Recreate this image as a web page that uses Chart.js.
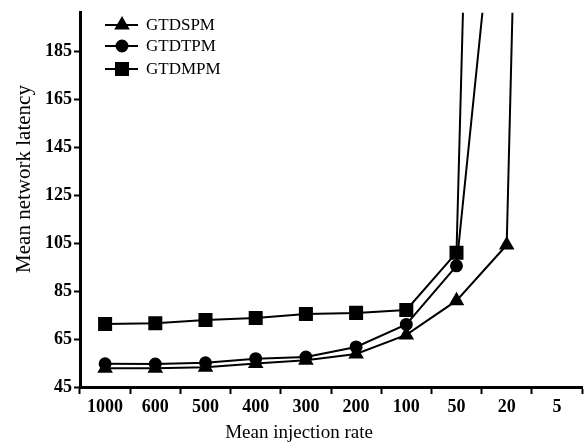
<!DOCTYPE html>
<html>
<head>
<meta charset="utf-8">
<script src="https://cdn.jsdelivr.net/npm/chart.js@4"></script>
<style>
  html, body { margin: 0; padding: 0; background: #fff; }
  #wrap { width: 584px; height: 446px; }
</style>
</head>
<body>
<div id="wrap"><canvas id="chart" width="584" height="446"></canvas></div>
<script>
// injection rate categories (x axis)
const rates = ['1000', '600', '500', '400', '300', '200', '100', '50', '20', '5'];
const yTicks = [45, 65, 85, 105, 125, 145, 165, 185];
const xTitle = 'Mean injection rate';
const yTitle = 'Mean network latency';

// mean network latency per series (values past the top are clipped)
const gtdspm = [52.8, 52.8, 53.2, 54.8, 56.2, 58.8, 66.7, 81, 104.2, 950];
const gtdtpm = [54.7, 54.6, 55.1, 56.8, 57.5, 61.7, 71.1, 95.5, 300, null];
const gtdmpm = [71.3, 71.6, 72.9, 73.8, 75.4, 75.9, 77.1, 101, 880, null];

const serif = '"Liberation Serif", "DejaVu Serif", serif';

function series(label, data, style, radius) {
  return {
    label: label,
    data: data,
    borderColor: '#000',
    backgroundColor: '#000',
    borderWidth: 2,
    pointStyle: style,
    pointRadius: radius,
    pointHoverRadius: radius,
    tension: 0,
    fill: false
  };
}

// legend inside the plot (top left) and the two axis titles
const annotations = {
  id: 'annotations',
  afterDraw(chart) {
    const ctx = chart.ctx;
    const rows = [25, 46, 69];
    ctx.save();
    chart.data.datasets.forEach((ds, i) => {
      const y = rows[i];
      ctx.strokeStyle = '#000';
      ctx.lineWidth = 2;
      ctx.beginPath();
      ctx.moveTo(105, y);
      ctx.lineTo(138, y);
      ctx.stroke();
      ctx.fillStyle = '#000';
      Chart.helpers.drawPoint(ctx, { pointStyle: ds.pointStyle, radius: ds.pointRadius, rotation: 0, borderWidth: 1 }, 122, y);
      ctx.font = '17px ' + serif;
      ctx.textBaseline = 'middle';
      ctx.textAlign = 'left';
      ctx.fillText(ds.label, 146, y + 1);
    });

    ctx.fillStyle = '#000';
    ctx.textAlign = 'center';
    ctx.font = '19px ' + serif;
    ctx.textBaseline = 'alphabetic';
    ctx.fillText(xTitle, 299, 438);

    ctx.translate(24, 179);
    ctx.rotate(-Math.PI / 2);
    ctx.font = '21px ' + serif;
    ctx.textBaseline = 'middle';
    ctx.fillText(yTitle, 0, 0);
    ctx.restore();
  }
};

new Chart(document.getElementById('chart'), {
  type: 'line',
  data: {
    labels: rates,
    datasets: [
      series('GTDSPM', gtdspm, 'triangle', 7),
      series('GTDTPM', gtdtpm, 'circle', 5.5),
      series('GTDMPM', gtdmpm, 'rect', 8.5)
    ]
  },
  options: {
    responsive: false,
    animation: false,
    layout: { autoPadding: false, padding: { top: 12, right: 2, left: 0, bottom: 0 } },
    plugins: {
      legend: { display: false },
      tooltip: { enabled: false }
    },
    scales: {
      x: {
        type: 'category',
        offset: true,
        grid: {
          offset: true,
          drawOnChartArea: false,
          tickLength: 7,
          tickWidth: 2,
          tickColor: '#000'
        },
        border: { color: '#000', width: 3 },
        ticks: {
          color: '#000',
          padding: 3,
          maxRotation: 0,
          font: { family: serif, size: 18, weight: 'bold' }
        },
        afterFit(scale) { scale.height = 59; }
      },
      y: {
        min: 45,
        max: 201,
        afterBuildTicks(axis) { axis.ticks = yTicks.map(v => ({ value: v })); },
        grid: {
          drawOnChartArea: false,
          tickLength: 6,
          tickWidth: 2,
          tickColor: '#000'
        },
        border: { color: '#000', width: 3 },
        ticks: {
          color: '#000',
          padding: 2,
          font: { family: serif, size: 18, weight: 'bold' }
        },
        afterFit(scale) { scale.width = 80; }
      }
    }
  },
  plugins: [annotations]
});
</script>
</body>
</html>
